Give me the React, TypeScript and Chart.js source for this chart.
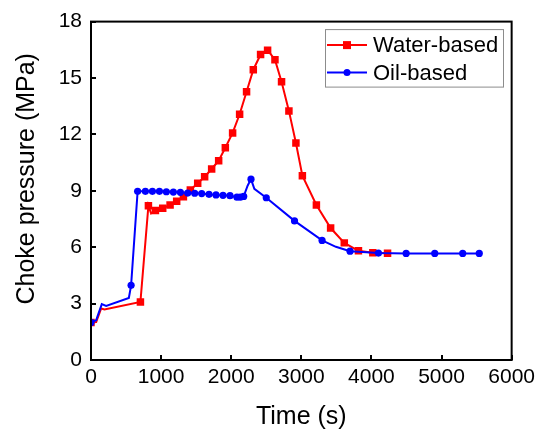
import React, { useEffect, useRef } from "react";
import { Chart, registerables } from "chart.js";

Chart.register(...registerables);

// Water-based series (time s, choke pressure MPa, marker shown)
const waterTime = [0, 74, 145, 192, 705, 819, 857, 919, 1023, 1128, 1222, 1318, 1417, 1522, 1621, 1721, 1821, 1916, 2020, 2120, 2219, 2315, 2419, 2519, 2624, 2718, 2823, 2923, 3015, 3215, 3418, 3613, 3815, 4020, 4230];
const waterPressure = [2.0, 2.02, 2.74, 2.69, 3.09, 8.21, 7.8, 7.95, 8.07, 8.25, 8.44, 8.69, 9.04, 9.4, 9.75, 10.16, 10.6, 11.29, 12.08, 13.07, 14.27, 15.44, 16.25, 16.48, 15.97, 14.8, 13.25, 11.54, 9.8, 8.25, 7.02, 6.23, 5.81, 5.7, 5.68];
const waterMarked = [true, false, false, false, true, true, false, true, true, true, true, true, true, true, true, true, true, true, true, true, true, true, true, true, true, true, true, true, true, true, true, true, true, true, true];

// Oil-based series
const oilTime = [0, 74, 154, 216, 540, 572, 665, 776, 876, 976, 1075, 1175, 1275, 1379, 1479, 1579, 1683, 1783, 1883, 1983, 2082, 2130, 2178, 2234, 2282, 2330, 2500, 2903, 3296, 3493, 3695, 4100, 4495, 4903, 5302, 5538];
const oilPressure = [2.0, 2.12, 2.97, 2.88, 3.3, 3.97, 8.97, 8.97, 8.97, 8.97, 8.95, 8.93, 8.92, 8.88, 8.87, 8.85, 8.81, 8.78, 8.76, 8.74, 8.66, 8.66, 8.7, 9.27, 9.62, 9.1, 8.63, 7.4, 6.36, 6.02, 5.79, 5.69, 5.67, 5.67, 5.67, 5.67];
const oilMarked = [true, false, false, false, false, true, true, true, true, true, true, true, true, true, true, true, true, true, true, true, true, true, true, false, true, false, true, true, true, false, true, true, true, true, true, true];

const xTicks = [0, 1000, 2000, 3000, 4000, 5000, 6000];
const yTicks = [0, 3, 6, 9, 12, 15, 18];

const seriesNames = ["Water-based", "Oil-based"];
const xTitle = "Time (s)";
const yTitle = "Choke pressure (MPa)";
const FONT = "'Liberation Sans', Arial, sans-serif";

const framePlugin = {
  id: "frameTicks",
  afterDatasetsDraw(chart: any) {
    const { ctx, chartArea } = chart;
    const { left, right, top, bottom } = chartArea;
    const xs = chart.scales.x;
    const ys = chart.scales.y;
    ctx.save();
    ctx.strokeStyle = "#000";
    ctx.lineWidth = 2;
    ctx.strokeRect(left, top, right - left, bottom - top);
    ctx.beginPath();
    xTicks.forEach((v) => {
      const px = Math.round(xs.getPixelForValue(v));
      ctx.moveTo(px, bottom);
      ctx.lineTo(px, bottom - 5);
    });
    yTicks.forEach((v) => {
      const py = Math.round(ys.getPixelForValue(v));
      ctx.moveTo(left, py);
      ctx.lineTo(left + 5, py);
    });
    ctx.stroke();
    // y axis title
    ctx.fillStyle = "#000";
    ctx.font = `25px ${FONT}`;
    ctx.textAlign = "center";
    ctx.textBaseline = "middle";
    ctx.translate(27, (top + bottom) / 2 - 12);
    ctx.rotate(-Math.PI / 2);
    ctx.fillText(yTitle, 0, 0);
    ctx.restore();
  },
};

const legendPlugin = {
  id: "customLegend",
  afterDraw(chart: any) {
    const { ctx, chartArea } = chart;
    const boxX = chartArea.left + 234;
    const boxY = chartArea.top + 7.5;
    const boxW = 178;
    const boxH = 57.5;
    ctx.save();
    ctx.strokeStyle = "#8c8c8c";
    ctx.lineWidth = 1;
    ctx.strokeRect(boxX + 0.5, boxY + 0.5, boxW, boxH);
    const items = chart.data.datasets;
    items.forEach((ds: any, i: number) => {
      const cy = boxY + 16 + i * 27.5;
      const lx0 = boxX + 2;
      const lx1 = boxX + 42;
      ctx.strokeStyle = ds.borderColor;
      ctx.lineWidth = 2;
      ctx.beginPath();
      ctx.moveTo(lx0, cy);
      ctx.lineTo(lx1, cy);
      ctx.stroke();
      ctx.fillStyle = ds.borderColor;
      const mx = (lx0 + lx1) / 2;
      if (ds.pointStyle === "rect") {
        ctx.fillRect(mx - 4, cy - 4, 8, 8);
      } else {
        ctx.beginPath();
        ctx.arc(mx, cy, 3.5, 0, Math.PI * 2);
        ctx.fill();
      }
      ctx.fillStyle = "#000";
      ctx.font = `22px ${FONT}`;
      ctx.textBaseline = "middle";
      ctx.textAlign = "left";
      ctx.fillText(ds.label, boxX + 48, cy + 1);
    });
    ctx.restore();
  },
};

export default function App() {
  const canvasRef = useRef<HTMLCanvasElement | null>(null);

  useEffect(() => {
    if (!canvasRef.current) return;
    const waterData = waterTime.map((t, i) => ({ x: t, y: waterPressure[i] }));
    const oilData = oilTime.map((t, i) => ({ x: t, y: oilPressure[i] }));
    const chart = new Chart(canvasRef.current, {
      type: "line",
      data: {
        datasets: [
          {
            label: seriesNames[0],
            data: waterData,
            borderColor: "#ff0000",
            backgroundColor: "#ff0000",
            borderWidth: 2,
            pointStyle: "rect",
            pointRadius: waterMarked.map((m) => (m ? 5.3 : 0)),
            pointBorderWidth: 0,
            tension: 0,
            order: 2,
          },
          {
            label: seriesNames[1],
            data: oilData,
            borderColor: "#0000ff",
            backgroundColor: "#0000ff",
            borderWidth: 2,
            pointStyle: "circle",
            pointRadius: oilMarked.map((m) => (m ? 3.6 : 0)),
            pointBorderWidth: 0,
            tension: 0,
            order: 1,
          },
        ],
      },
      options: {
        animation: false,
        responsive: false,
        maintainAspectRatio: false,
        devicePixelRatio: 1,
        layout: { padding: { top: 20, right: 28, left: 0, bottom: 0 } },
        plugins: {
          legend: { display: false },
          tooltip: { enabled: false },
        },
        scales: {
          x: {
            type: "linear",
            min: 0,
            max: 6000,
            afterBuildTicks: (s: any) => {
              s.ticks = xTicks.map((v) => ({ value: v }));
            },
            afterFit: (s: any) => {
              s.height = 73;
            },
            grid: { display: false, drawTicks: false },
            border: { display: false },
            ticks: {
              color: "#000",
              font: { family: FONT, size: 21 },
              padding: 5,
              maxRotation: 0,
              autoSkip: false,
              callback: (v: any) => String(v),
            },
            title: {
              display: true,
              text: xTitle,
              color: "#000",
              font: { family: FONT, size: 25 },
              padding: { top: 0, bottom: 1 },
            },
          },
          y: {
            type: "linear",
            min: 0,
            max: 18,
            afterBuildTicks: (s: any) => {
              s.ticks = yTicks.map((v) => ({ value: v }));
            },
            afterFit: (s: any) => {
              s.width = 91;
            },
            grid: { display: false, drawTicks: false },
            border: { display: false },
            ticks: {
              color: "#000",
              font: { family: FONT, size: 21 },
              padding: 9,
              autoSkip: false,
              callback: (v: any) => String(v),
            },
            title: { display: false },
          },
        },
      },
      plugins: [framePlugin, legendPlugin],
    });
    return () => chart.destroy();
  }, []);

  return (
    <div style={{ position: "absolute", left: 0, top: 0, width: 540, height: 433, background: "#fff" }}>
      <canvas ref={canvasRef} width={540} height={433} style={{ width: 540, height: 433 }} />
    </div>
  );
}
